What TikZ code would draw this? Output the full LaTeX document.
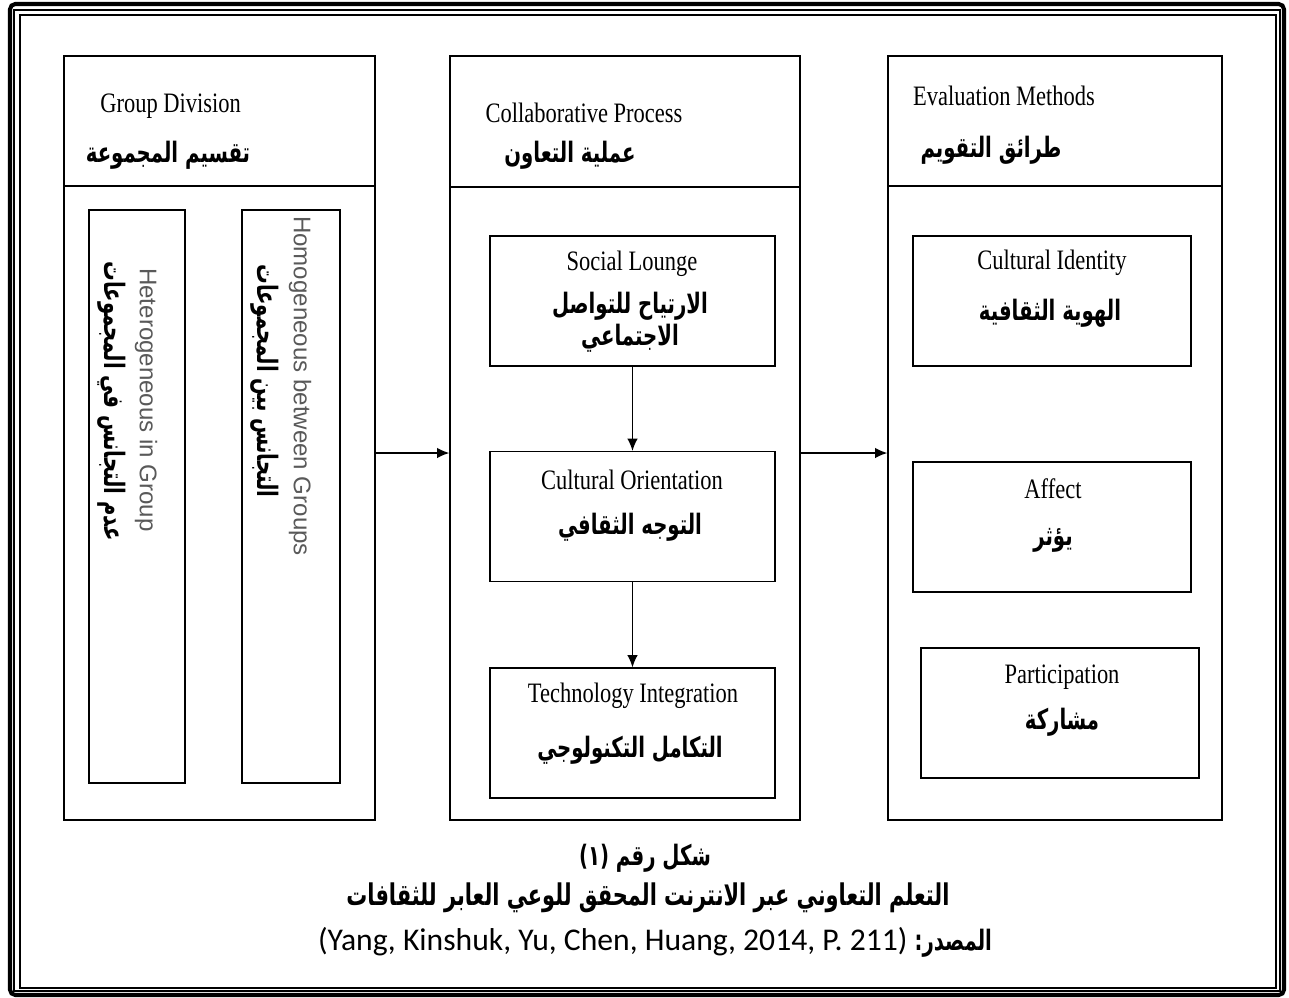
\documentclass[tikz,border=0pt]{standalone}
\usepackage{fontspec}
\setmainfont{Liberation Serif}[FakeStretch=0.8]
\newfontfamily\arabicfont[Script=Arabic,FakeStretch=0.7]{DejaVu Sans}
\newfontfamily\vsans{Liberation Sans}
\newfontfamily\srcfont{Carlito}
\TeXXeTstate=1
\usetikzlibrary{arrows.meta,positioning}
\newcommand\artxt[1]{{\arabicfont\bfseries\beginR #1\endR}}

\begin{document}
\begin{tikzpicture}[x=0.02cm,y=-0.02cm,>={Latex[length=7pt,width=6pt]},
  mainbox/.style={draw,line width=0.8pt,minimum width=#1,minimum height=15.28cm,inner sep=0pt},
  inbox/.style={draw,line width=0.7pt,minimum width=#1,minimum height=2.6cm,inner sep=0pt},
  vbox/.style={draw,line width=0.7pt,minimum width=#1,minimum height=11.46cm,inner sep=0pt},
  en/.style={font=\fontsize{16}{18}\selectfont,inner sep=0pt},
  ar/.style={font=\fontsize{16}{18}\selectfont,inner sep=0pt,align=center},
  ven/.style={font=\vsans\fontsize{13.7}{16}\selectfont,text=black!65,rotate=-90,inner sep=0pt},
  var/.style={font=\fontsize{16}{18}\selectfont,rotate=-90,inner sep=0pt},
  captxt/.style={font=\fontsize{17}{20}\selectfont,inner sep=0pt}]
  \useasboundingbox (0,0) rectangle (1289,998);

  % frame
  \draw[line width=2.3pt,rounded corners=3pt] (10,4) rectangle (1284,995);
  \draw[line width=0.9pt] (14,10) rectangle (1280,991);
  \draw[line width=1.1pt] (20,15) rectangle (1276,988);

  % three columns
  \node[mainbox=6.22cm] (grpdiv) at (219.5,438) {};
  \node[mainbox=7cm] (collab) at (625,438) {};
  \node[mainbox=6.68cm] (evalm) at (1055,438) {};
  \draw[line width=1.4pt] (grpdiv.west |- 0,186) -- (grpdiv.east |- 0,186);
  \draw[line width=1.4pt] (collab.west |- 0,187) -- (collab.east |- 0,187);
  \draw[line width=1.4pt] (evalm.west |- 0,186) -- (evalm.east |- 0,186);

  \node[en,anchor=west] (grpdivEn) at (100,106) {Group Division};
  \node[ar] (grpdivAr) at (168,155) {\artxt{تقسيم المجموعة}};
  \node[en] (collabEn) at (584,113) {Collaborative Process};
  \node[ar] (collabAr) at (570,155) {\artxt{عملية التعاون}};
  \node[en] (evalmEn) at (1004,96) {Evaluation Methods};
  \node[ar] (evalmAr) at (991,150) {\artxt{طرائق التقويم}};

  % group division
  \node[vbox=1.92cm] (hetero) at (137,496.5) {};
  \node[vbox=1.96cm] (homo) at (291,496.5) {};
  \node[ven] (heteroEn) at (146,400) {Heterogeneous in Group};
  \node[var] (heteroAr) at (112,401) {\artxt{عدم التجانس في المجموعات}};
  \node[ven] (homoEn) at (300,386) {Homogeneous between Groups};
  \node[var] (homoAr) at (265,381) {\artxt{التجانس بين المجموعات}};

  % collaborative process
  \node[inbox=5.7cm] (social) at (632.5,301) {};
  \node[inbox=5.7cm] (orient) at (632.5,516.5) {};
  \node[inbox=5.7cm] (techint) at (632.5,733) {};
  \node[en] (socialEn) at (632,264) {Social Lounge};
  \node[ar] (socialAr) at (630,322) {\artxt{الارتياح للتواصل}\\\artxt{الاجتماعي}};
  \node[en] (orientEn) at (632,480) {Cultural Orientation};
  \node[ar] (orientAr) at (630,527) {\artxt{التوجه الثقافي}};
  \node[en] (techintEn) at (633,696) {Technology Integration};
  \node[ar] (techintAr) at (630,750) {\artxt{التكامل التكنولوجي}};
  \draw[->,line width=0.8pt] (social) -- (orient);
  \draw[->,line width=0.8pt] (orient) -- (techint);

  % evaluation methods
  \node[inbox=5.56cm] (identity) at (1052,301) {};
  \node[inbox=5.56cm] (affect) at (1052,527) {};
  \node[inbox=5.56cm] (partic) at (1060,713) {};
  \node[en] (identityEn) at (1052,263) {Cultural Identity};
  \node[ar] (identityAr) at (1050,313) {\artxt{الهوية الثقافية}};
  \node[en] (affectEn) at (1053,489) {Affect};
  \node[ar] (affectAr) at (1053,540) {\artxt{يؤثر}};
  \node[en] (particEn) at (1062,677) {Participation};
  \node[ar] (particAr) at (1062,722) {\artxt{مشاركة}};

  \draw[->,line width=0.8pt] ([yshift=-0.3cm]grpdiv.east) -- ([yshift=-0.3cm]collab.west);
  \draw[->,line width=0.8pt] ([yshift=-0.3cm]collab.east) -- ([yshift=-0.3cm]evalm.west);

  % caption
  \node[captxt,font=\fontsize{16}{18}\selectfont] (capnum) at (645,858) {\artxt{شكل رقم (١)}};
  \node[captxt] (captitle) at (648,898) {\artxt{التعلم التعاوني عبر الانترنت المحقق للوعي العابر للثقافات}};
  \node[captxt] (capsrc) at (655,942) {\srcfont\fontsize{18}{20}\selectfont (Yang, Kinshuk, Yu, Chen, Huang, 2014, P. 211) {\fontsize{16}{18}\selectfont\artxt{المصدر:}}};
\end{tikzpicture}
\end{document}
